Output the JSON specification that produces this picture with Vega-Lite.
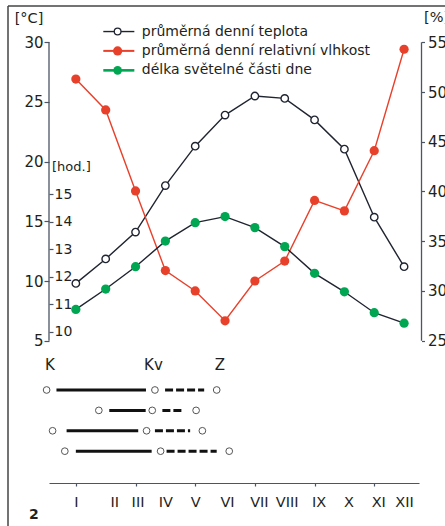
{
  "$schema": "https://vega.github.io/schema/vega-lite/v6.json",
  "width": 370,
  "height": 461,
  "autosize": "none",
  "padding": {"left": 49, "top": 22, "right": 26, "bottom": 43},
  "background": "white",
  "config": {
    "view": {"stroke": null},
    "font": "DejaVu Sans",
    "axis": {"grid": false, "labelFont": "DejaVu Sans", "labelColor": "#231f20", "tickColor": "#4b5563", "domainColor": "#4b5563"}
  },
  "datasets": {
    "climate": [
      {"month": 1, "roman": "I", "temp": 9.8, "hum": 51.3, "hours": 10.82},
      {"month": 2, "roman": "II", "temp": 11.85, "hum": 48.2, "hours": 11.56},
      {"month": 3, "roman": "III", "temp": 14.1, "hum": 40.05, "hours": 12.37},
      {"month": 4, "roman": "IV", "temp": 18.0, "hum": 32.05, "hours": 13.3},
      {"month": 5, "roman": "V", "temp": 21.3, "hum": 30.0, "hours": 13.97},
      {"month": 6, "roman": "VI", "temp": 23.9, "hum": 27.0, "hours": 14.19},
      {"month": 7, "roman": "VII", "temp": 25.5, "hum": 31.0, "hours": 13.79},
      {"month": 8, "roman": "VIII", "temp": 25.3, "hum": 33.0, "hours": 13.1},
      {"month": 9, "roman": "IX", "temp": 23.5, "hum": 39.1, "hours": 12.13},
      {"month": 10, "roman": "X", "temp": 21.05, "hum": 38.05, "hours": 11.46},
      {"month": 11, "roman": "XI", "temp": 15.35, "hum": 44.1, "hours": 10.7},
      {"month": 12, "roman": "XII", "temp": 11.2, "hum": 54.3, "hours": 10.32}
    ],
    "phases": [
      {"row": 1, "K": 0.02, "solidFrom": 0.35, "solidTo": 3.35, "Kv": 3.65, "dashFrom": 3.99, "dashTo": 5.3, "Z": 5.72},
      {"row": 2, "K": 1.77, "solidFrom": 2.12, "solidTo": 3.34, "Kv": 3.56, "dashFrom": 3.9, "dashTo": 4.62, "Z": 5.03},
      {"row": 3, "K": 0.22, "solidFrom": 0.69, "solidTo": 3.09, "Kv": 3.37, "dashFrom": 3.65, "dashTo": 4.83, "Z": 5.24},
      {"row": 4, "K": 0.63, "solidFrom": 1.0, "solidTo": 3.54, "Kv": 3.84, "dashFrom": 4.04, "dashTo": 5.72, "Z": 6.14}
    ],
    "phaseLabels": [
      {"label": "K", "month": 0.13, "row": -0.23},
      {"label": "Kv", "month": 3.6, "row": -0.23},
      {"label": "Z", "month": 5.83, "row": -0.23}
    ]
  },
  "layer": [
    {
      "layer": [
        {
          "data": {"name": "climate"},
          "mark": {"type": "line", "color": "#1f2430", "strokeWidth": 1.4},
          "encoding": {
            "x": {"field": "month", "type": "quantitative", "scale": {"domain": [0.1, 12.5], "nice": false, "zero": false},
              "axis": {"title": null, "values": [1,2,3,4,5,6,7,8,9,10,11,12], "labels": false,
                "tickSize": 3, "tickWidth": 1.2, "domainWidth": 1.2}},
            "y": {"field": "temp", "type": "quantitative", "scale": {"domain": [-6.92, 31.7], "nice": false, "zero": false},
              "axis": {"orient": "left", "title": null, "values": [5,10,15,20,25,30], "domain": false, "tickSize": 5, "tickWidth": 1.2, "labelPadding": 1, "labelFontSize": 15}}
          }
        },
        {
          "data": {"name": "climate"},
          "mark": {"type": "circle", "fill": "white", "stroke": "#1f2430", "strokeWidth": 1.4, "size": 55, "opacity": 1},
          "encoding": {
            "x": {"field": "month", "type": "quantitative"},
            "y": {"field": "temp", "type": "quantitative"}
          }
        },
        {
          "data": {"name": "climate"},
          "transform": [{"filter": "datum.month == 1 || datum.month == 4 || datum.month == 5 || datum.month == 12"}],
          "mark": {"type": "text", "align": "center", "baseline": "middle", "fontSize": 14.5, "color": "#231f20", "dx": 0.5},
          "encoding": {"x": {"field": "month", "type": "quantitative"}, "y": {"datum": -8.6}, "text": {"field": "roman"}}
        },
        {
          "data": {"name": "climate"},
          "transform": [{"filter": "datum.month == 2"}],
          "mark": {"type": "text", "align": "center", "baseline": "middle", "fontSize": 14.5, "color": "#231f20", "dx": 9},
          "encoding": {"x": {"field": "month", "type": "quantitative"}, "y": {"datum": -8.6}, "text": {"field": "roman"}}
        },
        {
          "data": {"name": "climate"},
          "transform": [{"filter": "datum.month == 3 || datum.month == 6 || datum.month == 8"}],
          "mark": {"type": "text", "align": "center", "baseline": "middle", "fontSize": 14.5, "color": "#231f20", "dx": 2.5},
          "encoding": {"x": {"field": "month", "type": "quantitative"}, "y": {"datum": -8.6}, "text": {"field": "roman"}}
        },
        {
          "data": {"name": "climate"},
          "transform": [{"filter": "datum.month == 7 || datum.month >= 9 && datum.month <= 11"}],
          "mark": {"type": "text", "align": "center", "baseline": "middle", "fontSize": 14.5, "color": "#231f20", "dx": 4.5},
          "encoding": {"x": {"field": "month", "type": "quantitative"}, "y": {"datum": -8.6}, "text": {"field": "roman"}}
        },
        {
          "data": {"values": [{}]},
          "mark": {"type": "rule", "color": "#4b5563", "strokeWidth": 1.3},
          "encoding": {"x": {"datum": 0.1}, "y": {"datum": 30}, "y2": {"datum": 5}}
        },
        {
          "data": {"values": [{}]},
          "mark": {"type": "rule", "color": "#444", "strokeWidth": 1.5},
          "encoding": {"x": {"datum": -1.274}, "y": {"datum": 33.03}, "y2": {"datum": -14}}
        },
        {
          "data": {"values": [{}]},
          "mark": {"type": "rule", "color": "#444", "strokeWidth": 1.5},
          "encoding": {"x": {"datum": -1.274}, "x2": {"datum": 15}, "y": {"datum": 33.03}}
        },
        {
          "data": {"values": [{}]},
          "mark": {"type": "rule", "color": "#1f2430", "strokeWidth": 1.4},
          "encoding": {"x": {"datum": 1.92}, "x2": {"datum": 2.96}, "y": {"datum": 30.9}}
        },
        {
          "data": {"values": [{}]},
          "mark": {"type": "rule", "color": "#e8412b", "strokeWidth": 2},
          "encoding": {"x": {"datum": 1.92}, "x2": {"datum": 2.96}, "y": {"datum": 29.28}}
        },
        {
          "data": {"values": [{}]},
          "mark": {"type": "rule", "color": "#00a651", "strokeWidth": 2.6},
          "encoding": {"x": {"datum": 1.92}, "x2": {"datum": 2.96}, "y": {"datum": 27.65}}
        },
        {
          "data": {"values": [{}]},
          "mark": {"type": "circle", "fill": "white", "stroke": "#1f2430", "strokeWidth": 1.3, "size": 45, "opacity": 1},
          "encoding": {"x": {"datum": 2.4}, "y": {"datum": 30.9}}
        },
        {
          "data": {"values": [{}]},
          "mark": {"type": "circle", "color": "#e8412b", "size": 85, "opacity": 1},
          "encoding": {"x": {"datum": 2.4}, "y": {"datum": 29.28}}
        },
        {
          "data": {"values": [{}]},
          "mark": {"type": "circle", "color": "#00a651", "size": 75, "opacity": 1},
          "encoding": {"x": {"datum": 2.4}, "y": {"datum": 27.65}}
        },
        {
          "data": {"values": [{}]},
          "mark": {"type": "text", "text": "průměrná denní teplota", "align": "left", "baseline": "middle", "fontSize": 14, "color": "#231f20"},
          "encoding": {"x": {"datum": 3.21}, "y": {"datum": 30.9}}
        },
        {
          "data": {"values": [{}]},
          "mark": {"type": "text", "text": "průměrná denní relativní vlhkost", "align": "left", "baseline": "middle", "fontSize": 14, "color": "#231f20"},
          "encoding": {"x": {"datum": 3.21}, "y": {"datum": 29.28}}
        },
        {
          "data": {"values": [{}]},
          "mark": {"type": "text", "text": "délka světelné části dne", "align": "left", "baseline": "middle", "fontSize": 14, "color": "#231f20"},
          "encoding": {"x": {"datum": 3.21}, "y": {"datum": 27.65}}
        },
        {
          "data": {"values": [{}]},
          "mark": {"type": "text", "text": "[°C]", "align": "center", "baseline": "middle", "fontSize": 14.5, "color": "#231f20"},
          "encoding": {"x": {"datum": -0.57}, "y": {"datum": 31.94}}
        },
        {
          "data": {"values": [{}]},
          "mark": {"type": "text", "text": "[%]", "align": "left", "baseline": "middle", "fontSize": 14.5, "color": "#231f20"},
          "encoding": {"x": {"datum": 12.667}, "y": {"datum": 32.07}}
        },
        {
          "data": {"values": [{}]},
          "mark": {"type": "text", "text": "2", "align": "center", "baseline": "middle", "fontSize": 14, "fontWeight": "bold", "color": "#231f20"},
          "encoding": {"x": {"datum": -0.403}, "y": {"datum": -9.6}}
        }
      ]
    },
    {
      "layer": [
        {
          "data": {"name": "climate"},
          "mark": {"type": "line", "color": "#e8412b", "strokeWidth": 1.4},
          "encoding": {
            "x": {"field": "month", "type": "quantitative", "scale": {"domain": [0.1, 12.5], "nice": false, "zero": false}},
            "y": {"field": "hum", "type": "quantitative", "scale": {"domain": [10.69, 57.04], "nice": false, "zero": false},
              "axis": {"orient": "right", "offset": 2.5, "title": null, "values": [25,30,35,40,45,50,55], "domain": false, "tickSize": 3, "tickWidth": 1.2, "labelPadding": 3, "labelFontSize": 15}}
          }
        },
        {
          "data": {"name": "climate"},
          "mark": {"type": "circle", "color": "#e8412b", "size": 85, "opacity": 1},
          "encoding": {
            "x": {"field": "month", "type": "quantitative"},
            "y": {"field": "hum", "type": "quantitative"}
          }
        },
        {
          "data": {"values": [{}]},
          "mark": {"type": "rule", "color": "#4b5563", "strokeWidth": 1.3},
          "encoding": {"x": {"datum": 12.584}, "y": {"datum": 55}, "y2": {"datum": 25}}
        }
      ]
    },
    {
      "layer": [
        {
          "data": {"name": "climate"},
          "mark": {"type": "line", "color": "#1f2430", "strokeWidth": 1.4},
          "encoding": {
            "x": {"field": "month", "type": "quantitative", "scale": {"domain": [0.1, 12.5], "nice": false, "zero": false}},
            "y": {"field": "hours", "type": "quantitative", "scale": {"domain": [4.517, 21.256], "nice": false, "zero": false},
              "axis": {"orient": "right", "offset": -370, "title": null, "values": [10,11,12,13,14,15], "domain": false, "tickSize": 4, "tickWidth": 1.2, "labelPadding": 1, "labelFontSize": 14}}
          }
        },
        {
          "data": {"name": "climate"},
          "mark": {"type": "circle", "color": "#00a651", "size": 85, "opacity": 1},
          "encoding": {
            "x": {"field": "month", "type": "quantitative"},
            "y": {"field": "hours", "type": "quantitative"}
          }
        },
        {
          "data": {"values": [{}]},
          "mark": {"type": "text", "text": "[hod.]", "align": "left", "baseline": "middle", "fontSize": 13, "color": "#231f20"},
          "encoding": {"x": {"datum": 0.2}, "y": {"datum": 16}}
        }
      ]
    },
    {
      "layer": [
        {
          "data": {"name": "phases"},
          "mark": {"type": "rule", "color": "#111", "strokeWidth": 3},
          "encoding": {
            "x": {"field": "solidFrom", "type": "quantitative", "scale": {"domain": [0.1, 12.5], "nice": false, "zero": false}},
            "x2": {"field": "solidTo"},
            "y": {"field": "row", "type": "quantitative", "scale": {"domain": [-17.04, 5.56], "nice": false, "zero": false, "reverse": true}, "axis": null}
          }
        },
        {
          "data": {"name": "phases"},
          "mark": {"type": "rule", "color": "#111", "strokeWidth": 3, "strokeDash": [8, 3]},
          "encoding": {
            "x": {"field": "dashFrom", "type": "quantitative"},
            "x2": {"field": "dashTo"},
            "y": {"field": "row", "type": "quantitative", "axis": null}
          }
        },
        {
          "data": {"name": "phases"},
          "mark": {"type": "circle", "fill": "white", "stroke": "#555", "strokeWidth": 1, "size": 45, "opacity": 1},
          "encoding": {
            "x": {"field": "K", "type": "quantitative"},
            "y": {"field": "row", "type": "quantitative", "axis": null}
          }
        },
        {
          "data": {"name": "phases"},
          "mark": {"type": "circle", "fill": "white", "stroke": "#555", "strokeWidth": 1, "size": 45, "opacity": 1},
          "encoding": {
            "x": {"field": "Kv", "type": "quantitative"},
            "y": {"field": "row", "type": "quantitative", "axis": null}
          }
        },
        {
          "data": {"name": "phases"},
          "mark": {"type": "circle", "fill": "white", "stroke": "#555", "strokeWidth": 1, "size": 45, "opacity": 1},
          "encoding": {
            "x": {"field": "Z", "type": "quantitative"},
            "y": {"field": "row", "type": "quantitative", "axis": null}
          }
        },
        {
          "data": {"name": "phaseLabels"},
          "mark": {"type": "text", "align": "center", "baseline": "middle", "fontSize": 15, "color": "#231f20"},
          "encoding": {
            "x": {"field": "month", "type": "quantitative"},
            "y": {"field": "row", "type": "quantitative", "axis": null},
            "text": {"field": "label"}
          }
        }
      ]
    }
  ],
  "resolve": {"scale": {"y": "independent"}, "axis": {"y": "independent"}}
}
